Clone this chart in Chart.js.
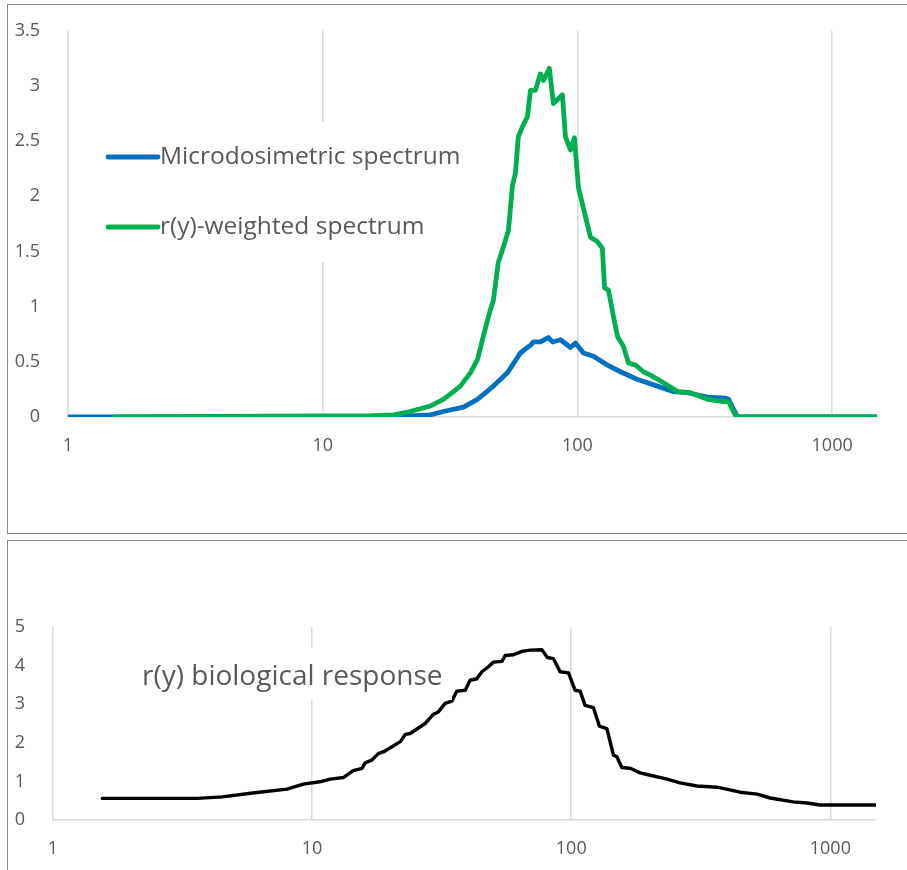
<!DOCTYPE html>
<html>
<head>
<meta charset="utf-8">
<title>Microdosimetric spectrum and r(y)</title>
<script src="https://cdn.jsdelivr.net/npm/chart.js@4.4.1/dist/chart.umd.min.js"></script>
<style>
  body { margin: 0; background: #fff; width: 907px; height: 870px; overflow: hidden; position: relative; }
  .box { position: absolute; border: 1px solid #8a8a8a; }
  #top-box { left: 7px; top: 4px; width: 920px; height: 528px; }
  #bottom-box { left: 7px; top: 540px; width: 920px; height: 360px; }
  canvas { position: absolute; left: 0; }
  #spectrum-chart { top: 0; }
  #response-chart { top: 541px; }
</style>
</head>
<body>
<div class="box" id="top-box"></div>
<div class="box" id="bottom-box"></div>
<canvas id="spectrum-chart" width="907" height="530"></canvas>
<canvas id="response-chart" width="907" height="329"></canvas>

<script>
// Data (lineal energy y on a log axis)
const xTicks = [1, 10, 100, 1000];
const xTickLabels = ['1', '10', '100', '1000'];

const microEnergy = [1, 5, 10, 15, 20, 22, 26.5, 29.75, 35.7, 40.5, 46.8, 53.1, 59.7, 63.6, 65.4, 67.2, 71.5, 76.9, 79.8, 85.8,
    93.9, 98.2, 105.6, 115.6, 131.2, 147.6, 172.2, 206.3, 238.4, 270.5, 324.2, 381.6, 392, 425, 1500];
const microValues = [0, 0, 0.005, 0.005, 0.01, 0.01, 0.02, 0.05, 0.09, 0.16, 0.28, 0.40, 0.58, 0.63, 0.65, 0.68, 0.68, 0.72, 0.68, 0.70,
    0.63, 0.67, 0.58, 0.55, 0.47, 0.41, 0.34, 0.28, 0.23, 0.22, 0.18, 0.17, 0.16, 0, 0];

const weightedEnergy = [1.53, 10, 15, 19, 22, 26.5, 29.75, 32.6, 34.7, 38, 40.5, 42.7, 45.5, 46.8, 48.9, 51.2, 53.6, 55.6, 57.1, 58.6,
    60.8, 63.6, 65.4, 68.4, 71.5, 73.5, 77.6, 80.5, 87.3, 89.7, 93.9, 97.3, 100.9, 112.5, 119.6, 125.3, 127.8, 132.4, 138.5, 143.7,
    151.6, 158.6, 169, 181.6, 193.6, 217.8, 247.2, 278, 324, 375, 392, 420, 1500];
const weightedValues = [0, 0.01, 0.01, 0.02, 0.05, 0.10, 0.16, 0.23, 0.28, 0.40, 0.52, 0.73, 0.97, 1.06, 1.40, 1.54, 1.69, 2.10, 2.21, 2.54,
    2.63, 2.72, 2.96, 2.96, 3.11, 3.05, 3.16, 2.84, 2.92, 2.54, 2.42, 2.53, 2.08, 1.63, 1.59, 1.53, 1.17, 1.15, 0.91, 0.73,
    0.64, 0.49, 0.47, 0.41, 0.38, 0.31, 0.23, 0.22, 0.16, 0.14, 0.14, 0, 0];

const responseEnergy = [1.55, 3.6, 4.5, 5.9, 8.0, 9.25, 10.7, 11.75, 13.2, 14.4, 15.6, 16.0, 17.0, 18.0, 18.9, 21.9, 22.9, 23.9, 27.3, 29.4,
    30.7, 32.6, 34.6, 36.2, 39.0, 40.7, 43.2, 45.2, 47.9, 50.1, 54.0, 55.6, 59.8, 64.5, 69.4, 77.0, 80.9, 85.4, 90.6, 97.6,
    103.5, 108.2, 113.1, 121.8, 128.5, 137.2, 145.5, 150, 156.7, 168.8, 184.5, 201.6, 234.4, 263.1, 305.9, 365.5, 448.4, 521.5, 585.4, 718.1,
    813.1, 912.7, 1500];
const responseValues = [0.56, 0.56, 0.60, 0.70, 0.80, 0.93, 0.99, 1.06, 1.10, 1.28, 1.34, 1.48, 1.55, 1.72, 1.77, 2.03, 2.22, 2.24, 2.50, 2.74,
    2.80, 3.02, 3.08, 3.34, 3.36, 3.62, 3.66, 3.84, 3.97, 4.09, 4.11, 4.26, 4.28, 4.37, 4.40, 4.41, 4.21, 4.18, 3.84, 3.81,
    3.36, 3.34, 2.97, 2.91, 2.43, 2.37, 1.68, 1.64, 1.36, 1.34, 1.22, 1.16, 1.06, 0.96, 0.88, 0.85, 0.72, 0.67, 0.57, 0.47,
    0.44, 0.39, 0.39];

const tickFont = { family: 'Open Sans', size: 18 };
const tickColor = '#595959';
const gridColor = '#d9d9d9';

function toPoints(xs, ys) {
    return xs.map((x, i) => ({ x, y: ys[i] }));
}

// Legend drawn inside the plot, on a white box like the spreadsheet one
const insideLegend = {
    id: 'insideLegend',
    afterDraw(chart, args, opts) {
        const ctx = chart.ctx;
        ctx.save();
        ctx.fillStyle = '#fff';
        ctx.fillRect(opts.box[0], opts.box[1], opts.box[2], opts.box[3]);
        ctx.font = `${opts.fontSize}px "Open Sans"`;
        ctx.textBaseline = 'middle';
        ctx.fillStyle = '#595959';
        chart.data.datasets.forEach((ds, i) => {
            const y = opts.top + i * opts.rowGap;
            if (opts.lineLength > 0) {
                ctx.strokeStyle = ds.borderColor;
                ctx.lineWidth = ds.borderWidth;
                ctx.lineCap = 'round';
                ctx.beginPath();
                ctx.moveTo(opts.left, y);
                ctx.lineTo(opts.left + opts.lineLength, y);
                ctx.stroke();
            }
            ctx.fillText(ds.label, opts.left + opts.lineLength + 2, y);
        });
        ctx.restore();
    }
};

function logAxis(height) {
    return {
        type: 'logarithmic',
        min: 1,
        max: 1500,
        afterBuildTicks: (scale) => { scale.ticks = xTicks.map(v => ({ value: v })); },
        afterFit: (scale) => { scale.height = height; },
        ticks: {
            callback: (value, index) => xTickLabels[index],
            autoSkip: false,
            maxRotation: 0,
            padding: 18,
            color: tickColor,
            font: tickFont,
        },
        grid: { color: gridColor, lineWidth: 1.5, drawTicks: false },
        border: { color: gridColor, width: 1.5 },
    };
}

function valueAxis(max, step, width) {
    return {
        min: 0,
        max: max,
        afterFit: (scale) => { scale.width = width; },
        ticks: {
            stepSize: step,
            padding: 20,
            color: tickColor,
            font: tickFont,
            callback: (value) => String(+value.toFixed(2)),
        },
        grid: { display: false },
        border: { display: false },
    };
}

// Top chart: spectra
new Chart(document.getElementById('spectrum-chart'), {
    type: 'line',
    data: {
        datasets: [{
            label: 'Microdosimetric spectrum',
            data: toPoints(microEnergy, microValues),
            borderColor: '#0070c0',
            borderWidth: 4.8,
            order: 1,
        }, {
            label: 'r(y)-weighted spectrum',
            data: toPoints(weightedEnergy, weightedValues),
            borderColor: '#00b050',
            borderWidth: 4.8,
            order: 0,
        }]
    },
    options: {
        responsive: false,
        animation: false,
        elements: { point: { radius: 0 }, line: { tension: 0, borderJoinStyle: 'round', borderCapStyle: 'round' } },
        layout: { padding: { left: 0, right: 30, top: 30, bottom: 0 } },
        scales: {
            x: logAxis(113),
            y: valueAxis(3.5, 0.5, 68),
        },
        plugins: {
            legend: { display: false },
            tooltip: { enabled: false },
            insideLegend: { box: [96, 122, 376, 140], left: 108, top: 157, rowGap: 70, lineLength: 50, fontSize: 24.5 },
        }
    },
    plugins: [insideLegend]
});

// Bottom chart: biological response
new Chart(document.getElementById('response-chart'), {
    type: 'line',
    data: {
        datasets: [{
            label: 'r(y) biological response',
            data: toPoints(responseEnergy, responseValues),
            borderColor: '#000000',
            borderWidth: 3.4,
        }]
    },
    options: {
        responsive: false,
        animation: false,
        elements: { point: { radius: 0 }, line: { tension: 0, borderJoinStyle: 'round', borderCapStyle: 'round' } },
        layout: { padding: { left: 0, right: 31, top: 86, bottom: 0 } },
        scales: {
            x: logAxis(50),
            y: valueAxis(5, 1, 53),
        },
        plugins: {
            legend: { display: false },
            tooltip: { enabled: false },
            insideLegend: { box: [132, 107, 320, 52], left: 140, top: 136, rowGap: 0, lineLength: 0, fontSize: 28 },
        }
    },
    plugins: [insideLegend]
});
</script>
</body>
</html>
